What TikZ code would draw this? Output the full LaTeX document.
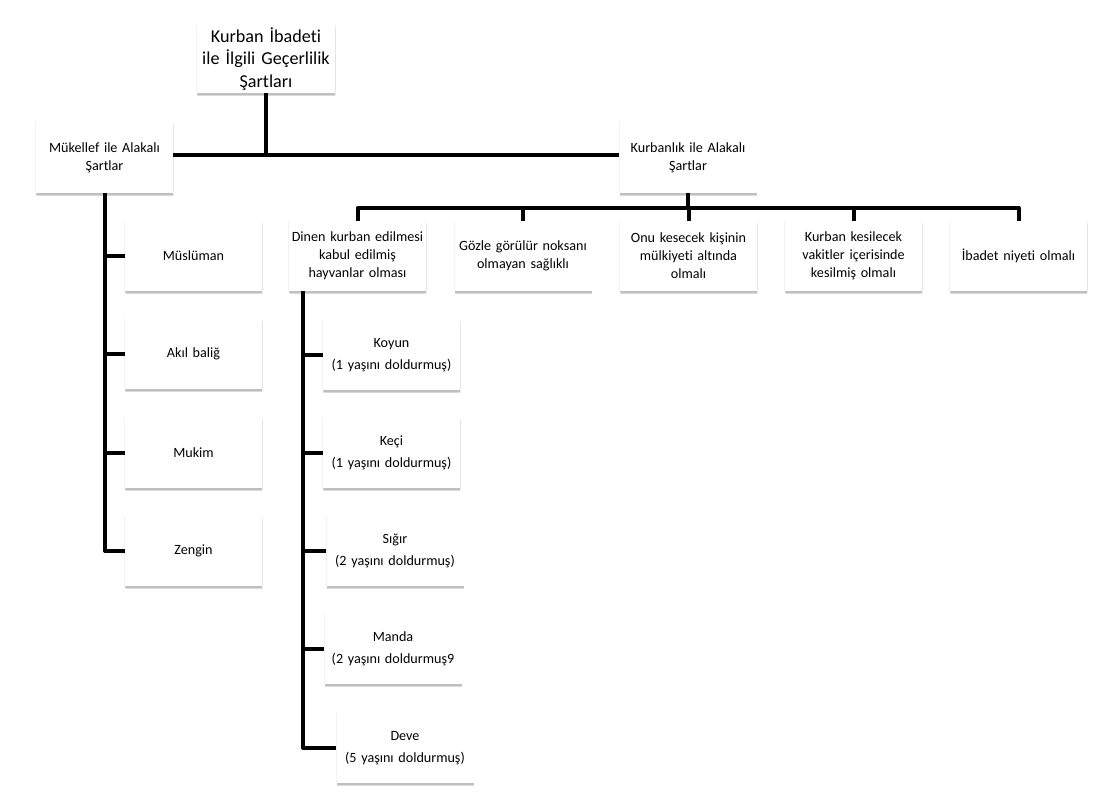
\documentclass[tikz,border=0pt]{standalone}
\usepackage{fontspec}
\setmainfont{Carlito}[Ligatures=NoCommon]
\usetikzlibrary{shadows}
\tikzset{
  box/.style={draw=none, fill=white, minimum width=102.75pt, minimum height=52.5pt,
    text width=100pt, align=center, inner sep=0pt,
    font=\fontsize{10.6pt}{13.6pt}\selectfont,
    drop shadow={shadow xshift=0pt, shadow yshift=0pt, shadow scale=1.012, fill=black, opacity=0.05},
    drop shadow={shadow xshift=0.4pt, shadow yshift=-2.6pt, fill=black, opacity=0.06},
    drop shadow={shadow xshift=0.3pt, shadow yshift=-1.9pt, fill=black, opacity=0.09},
    drop shadow={shadow xshift=0.2pt, shadow yshift=-1.2pt, fill=black, opacity=0.12}},
  rootbox/.style={box, minimum width=103.5pt, minimum height=51pt,
    font=\fontsize{13.6pt}{16.8pt}\selectfont},
  conn/.style={draw=black, line width=3pt, line join=round}
}
\begin{document}
\begin{tikzpicture}[x=0.75pt,y=-0.75pt]
\useasboundingbox (0,0) rectangle (1118,800);
% top
\node[rootbox] (root) at (266,59) {Kurban İbadeti\\ile İlgili Geçerlilik\\Şartları};
\node[box] (muk) at (104.5,158) {Mükellef ile Alakalı\\Şartlar};
\node[box] (kurb) at (688,158) {Kurbanlık ile Alakalı\\Şartlar};
% left branch
\node[box] (mus) at (193.5,256) {Müslüman};
\node[box] (akil) at (193.5,354) {Akıl baliğ};
\node[box] (mukim) at (193.5,453) {Mukim};
\node[box] (zengin) at (193.5,551) {Zengin};
% right row
\node[box] (d1) at (357.5,256) {Dinen kurban edilmesi\\kabul edilmiş\\hayvanlar olması};
\node[box] (d2) at (523,256) {Gözle görülür noksanı\\olmayan sağlıklı};
\node[box] (d3) at (688.5,256) {Onu kesecek kişinin\\mülkiyeti altında\\olmalı};
\node[box] (d4) at (853.5,256) {Kurban kesilecek\\vakitler içerisinde\\kesilmiş olmalı};
\node[box] (d5) at (1018.5,256) {İbadet niyeti olmalı};
% animals
\node[box] (koyun) at (391.5,355) {Koyun\\[3pt](1 yaşını doldurmuş)};
\node[box] (keci) at (391.5,453) {Keçi\\[3pt](1 yaşını doldurmuş)};
\node[box] (sigir) at (395,551) {Sığır\\[3pt](2 yaşını doldurmuş)};
\node[box] (manda) at (393,649) {Manda\\[3pt](2 yaşını doldurmuş9};
\node[box] (deve) at (405,748) {Deve\\[3pt](5 yaşını doldurmuş)};
% helper coordinates
\coordinate (busL) at (0,155);
\coordinate (busR) at (0,208);
\coordinate (lv) at (105,0);
\coordinate (dv) at (303,0);
% connectors
\draw[conn] (root.south) -- (root.south |- busL);
\draw[conn] (muk.east |- busL) -- (kurb.west |- busL);
\draw[conn] (kurb.south) -- (kurb.south |- busR);
\draw[conn] (d1.north) -- (d1.north |- busR) -- (d5.north |- busR) -- (d5.north);
\draw[conn] (d2.north) -- (d2.north |- busR);
\draw[conn] (d3.north) -- (d3.north |- busR);
\draw[conn] (d4.north) -- (d4.north |- busR);
% left vertical
\draw[conn] (lv |- muk.south) -- (lv |- zengin.west) -- (zengin.west);
\draw[conn] (lv |- mus.west) -- (mus.west);
\draw[conn] (lv |- akil.west) -- (akil.west);
\draw[conn] (lv |- mukim.west) -- (mukim.west);
% dinen vertical
\draw[conn] (dv |- d1.south) -- (dv |- deve.west) -- (deve.west);
\draw[conn] (dv |- koyun.west) -- (koyun.west);
\draw[conn] (dv |- keci.west) -- (keci.west);
\draw[conn] (dv |- sigir.west) -- (sigir.west);
\draw[conn] (dv |- manda.west) -- (manda.west);
\end{tikzpicture}
\end{document}
